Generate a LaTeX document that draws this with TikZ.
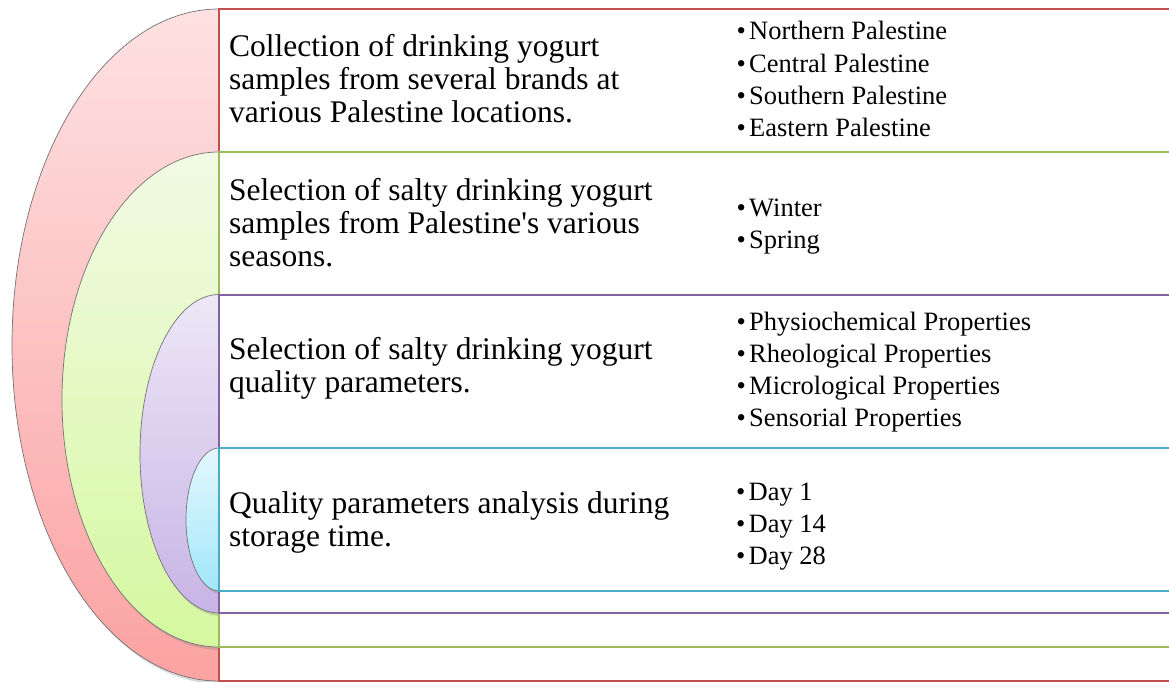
\documentclass[tikz,border=0pt]{standalone}
\usepackage{fontspec}
\setmainfont{Liberation Serif}[Ligatures=TeXOff]
\usetikzlibrary{shadows}
\definecolor{redline}{HTML}{C0504D}
\definecolor{greenline}{HTML}{9BBB59}
\definecolor{purpleline}{HTML}{8064A2}
\definecolor{cyanline}{HTML}{4BACC6}
\definecolor{redtop}{HTML}{FEE1E2}
\definecolor{redbot}{HTML}{FBA2A2}
\definecolor{greentop}{HTML}{F2FAE4}
\definecolor{greenbot}{HTML}{D6F8A0}
\definecolor{purpletop}{HTML}{EDE7F6}
\definecolor{purplebot}{HTML}{C8B4E6}
\definecolor{cyantop}{HTML}{E4F8FD}
\definecolor{cyanbot}{HTML}{A2E6FA}
\newcommand\mybul{\makebox[12.5pt][l]{\textbullet}}
\begin{document}
\begin{tikzpicture}[x=1pt,y=1pt,
  arcshape/.style={draw=black!55, line width=0.7pt,
    drop shadow={opacity=0.3,shadow xshift=2pt,shadow yshift=-3pt}},
  band/.style={fill=white, line width=2pt},
  maintext/.style={anchor=base west, inner sep=0pt, font=\fontsize{31.5}{33}\selectfont},
  bullettext/.style={anchor=base west, inner sep=0pt, font=\fontsize{26.5}{32.2}\selectfont}]
\useasboundingbox (0,0) rectangle (1169,-682);
\clip (0,0) rectangle (1169,-682);
\fill[white] (0,0) rectangle (1169,-682);
% nested half ellipses
\path[arcshape, top color=redtop, bottom color=redbot]
  (219,-9) arc[start angle=90, end angle=270, x radius=207, y radius=336] -- cycle;
\path[arcshape, top color=greentop, bottom color=greenbot]
  (219,-152) arc[start angle=90, end angle=270, x radius=157, y radius=247.5] -- cycle;
\path[arcshape, top color=purpletop, bottom color=purplebot]
  (219,-294.5) arc[start angle=90, end angle=270, x radius=79, y radius=159.25] -- cycle;
\path[arcshape, top color=cyantop, bottom color=cyanbot]
  (219,-448) arc[start angle=90, end angle=270, x radius=33, y radius=71.5] -- cycle;
% nested bands
\draw[band, draw=redline] (219,-9) rectangle (1185,-681);
\draw[band, draw=greenline] (219,-152) rectangle (1185,-647);
\draw[band, draw=purpleline] (219,-294.5) rectangle (1185,-613);
\draw[band, draw=cyanline] (219,-448) rectangle (1185,-591);
% main texts
\node[maintext] (t1) at (229,-57) {\begin{tabular}[t]{@{}l@{}}Collection of drinking yogurt\\ samples from several brands at\\ various Palestine locations.\end{tabular}};
\node[maintext] (t2) at (229,-200) {\begin{tabular}[t]{@{}l@{}}Selection of salty drinking yogurt\\ samples from Palestine's various\\ seasons.\end{tabular}};
\node[maintext] (t3) at (229,-359) {\begin{tabular}[t]{@{}l@{}}Selection of salty drinking yogurt\\ quality parameters.\end{tabular}};
\node[maintext] (t4) at (229,-513) {\begin{tabular}[t]{@{}l@{}}Quality parameters analysis during\\ storage time.\end{tabular}};
% bullet lists
\node[bullettext] (b1) at (736.5,-40) {\begin{tabular}[t]{@{}l@{}}\mybul Northern Palestine\\ \mybul Central Palestine\\ \mybul Southern Palestine\\ \mybul Eastern Palestine\end{tabular}};
\node[bullettext] (b2) at (736.5,-216.5) {\begin{tabular}[t]{@{}l@{}}\mybul Winter\\ \mybul Spring\end{tabular}};
\node[bullettext] (b3) at (736.5,-330) {\begin{tabular}[t]{@{}l@{}}\mybul Physiochemical Properties\\ \mybul Rheological Properties\\ \mybul Micrological Properties\\ \mybul Sensorial Properties\end{tabular}};
\node[bullettext] (b4) at (736,-500) {\begin{tabular}[t]{@{}l@{}}\mybul Day 1\\ \mybul Day 14\\ \mybul Day 28\end{tabular}};
\end{tikzpicture}
\end{document}
